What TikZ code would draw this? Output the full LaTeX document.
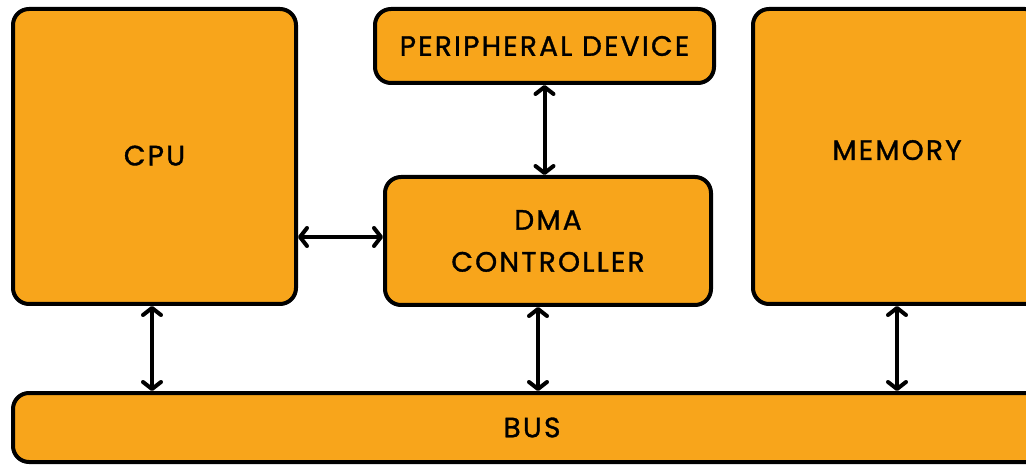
\documentclass[tikz,border=0pt]{standalone}
\usepackage{fontspec}
\setmainfont{Poppins}[LetterSpace=8,FakeBold=1.2]
\usetikzlibrary{arrows.meta}
\definecolor{boxfill}{HTML}{F8A51B}
\tikzset{
  unit/.style={draw=black, line width=4pt, fill=boxfill, rounded corners=16pt,
    align=center, font=\fontsize{28}{42}\selectfont, inner sep=0pt},
  link/.style={line width=4pt, line cap=round,
    {Straight Barb[length=7pt,width=18pt,line cap=round,line join=round]}-{Straight Barb[length=7pt,width=18pt,line cap=round,line join=round]}},
}
\begin{document}
\begin{tikzpicture}[x=1pt,y=1pt]
  \useasboundingbox (0,0) rectangle (1026,464);
  \clip (0,0) rectangle (1026,464);
  % processor, peripheral and DMA unit
  \node[unit, minimum width=283pt, minimum height=295pt, text depth=2pt] (cpu) at (154.5,307.5) {CPU};
  \node[unit, minimum width=339pt, minimum height=74pt] (periph) at (544.5,418) {PERIPHERAL DEVICE};
  \node[unit, minimum width=326pt, minimum height=128pt] (dma) at (548,223) {DMA\\CONTROLLER};
  \node[unit, minimum width=288pt, minimum height=295pt, text depth=13pt] (mem) at (897,307.5) {MEMORY};
  \node[unit, minimum width=1038pt, minimum height=69pt] (bus) at (532,36.5) {BUS};
  % bidirectional transfers
  \draw[link] (periph.south) -- (periph.south |- dma.north);
  \draw[link] (cpu.east |- 0,227) -- (dma.west |- 0,227);
  \draw[link] ([xshift=-2.5pt]cpu.south) -- ([xshift=-2.5pt]cpu.south |- bus.north);
  \draw[link] ([xshift=-10pt]dma.south) -- ([xshift=-10pt]dma.south |- bus.north);
  \draw[link] (mem.south) -- (mem.south |- bus.north);
\end{tikzpicture}
\end{document}
